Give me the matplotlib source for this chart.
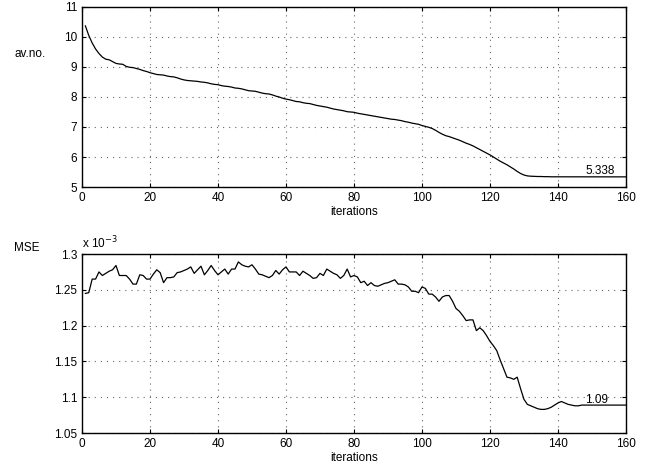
import matplotlib
matplotlib.use('Agg')
import matplotlib.pyplot as plt
import numpy as np

plt.rcParams['font.family'] = ['Liberation Sans', 'DejaVu Sans']
plt.rcParams['font.size'] = 8.5

# average number per iteration (top panel)
avno = [10.37, 10.05, 9.80, 9.60, 9.45, 9.33, 9.26, 9.24, 9.18, 9.12,
        9.10, 9.09, 9.02, 8.99, 8.98, 8.95, 8.92, 8.88, 8.85, 8.81,
        8.78, 8.75, 8.74, 8.73, 8.70, 8.68, 8.67, 8.64, 8.60, 8.57,
        8.55, 8.54, 8.53, 8.52, 8.50, 8.49, 8.47, 8.44, 8.42, 8.41,
        8.38, 8.36, 8.35, 8.33, 8.30, 8.29, 8.27, 8.24, 8.21, 8.20,
        8.19, 8.16, 8.13, 8.11, 8.10, 8.07, 8.03, 8.00, 7.96, 7.93,
        7.91, 7.88, 7.85, 7.84, 7.81, 7.79, 7.78, 7.75, 7.72, 7.70,
        7.68, 7.66, 7.63, 7.60, 7.58, 7.56, 7.54, 7.51, 7.50, 7.49,
        7.46, 7.44, 7.42, 7.40, 7.38, 7.36, 7.34, 7.32, 7.30, 7.28,
        7.26, 7.25, 7.23, 7.21, 7.18, 7.16, 7.13, 7.11, 7.09, 7.05,
        7.02, 6.99, 6.95, 6.89, 6.82, 6.76, 6.71, 6.68, 6.64, 6.60,
        6.56, 6.51, 6.46, 6.42, 6.37, 6.31, 6.25, 6.19, 6.13, 6.07,
        6.00, 5.93, 5.86, 5.80, 5.74, 5.67, 5.60, 5.52, 5.45, 5.40,
        5.37, 5.36, 5.355, 5.35, 5.35, 5.345, 5.345, 5.34, 5.34, 5.34,
        5.338, 5.338, 5.338, 5.338, 5.338, 5.338, 5.338, 5.338, 5.338, 5.338,
        5.338, 5.338, 5.338, 5.338, 5.338, 5.338, 5.338, 5.338, 5.338, 5.338]

# MSE per iteration, in units of 1e-3 (bottom panel)
mse = [1.245, 1.246, 1.265, 1.265, 1.275, 1.270, 1.273, 1.276, 1.278, 1.284,
       1.270, 1.270, 1.270, 1.265, 1.258, 1.258, 1.271, 1.270, 1.265, 1.265,
       1.272, 1.278, 1.274, 1.260, 1.267, 1.267, 1.268, 1.274, 1.275, 1.277,
       1.279, 1.282, 1.273, 1.278, 1.283, 1.271, 1.277, 1.284, 1.277, 1.271,
       1.275, 1.279, 1.272, 1.279, 1.279, 1.289, 1.285, 1.283, 1.282, 1.285,
       1.279, 1.272, 1.271, 1.269, 1.267, 1.270, 1.277, 1.272, 1.278, 1.282,
       1.275, 1.275, 1.275, 1.270, 1.276, 1.273, 1.270, 1.266, 1.267, 1.273,
       1.270, 1.279, 1.276, 1.273, 1.271, 1.266, 1.270, 1.279, 1.268, 1.270,
       1.268, 1.260, 1.262, 1.256, 1.260, 1.256, 1.255, 1.257, 1.259, 1.260,
       1.262, 1.264, 1.258, 1.258, 1.257, 1.254, 1.248, 1.248, 1.246, 1.254,
       1.252, 1.244, 1.244, 1.240, 1.234, 1.240, 1.242, 1.242, 1.234, 1.224,
       1.220, 1.214, 1.207, 1.208, 1.208, 1.193, 1.197, 1.193, 1.186, 1.178,
       1.172, 1.165, 1.152, 1.140, 1.128, 1.127, 1.125, 1.128, 1.112, 1.097,
       1.090, 1.088, 1.086, 1.084, 1.083, 1.083, 1.084, 1.086, 1.089, 1.092,
       1.094, 1.092, 1.090, 1.089, 1.088, 1.088, 1.089, 1.089, 1.089, 1.089,
       1.089, 1.089, 1.089, 1.089, 1.089, 1.089, 1.089, 1.089, 1.089, 1.089]

iters = np.arange(1, len(avno) + 1)
xticks = [0, 20, 40, 60, 80, 100, 120, 140, 160]
avno_ticks = [5, 6, 7, 8, 9, 10, 11]
mse_ticks = [1.05, 1.1, 1.15, 1.2, 1.25, 1.3]
mse_ticklabels = ['1.05', '1.1', '1.15', '1.2', '1.25', '1.3']


def style(ax):
    ax.set_xlim(0, 160)
    ax.set_xticks(xticks)
    ax.tick_params(direction='in', top=True, right=True, length=3, width=0.8, pad=3.5)
    ax.grid(True, linestyle=(0, (1, 4.5)), color='0.4', linewidth=0.8)
    for s in ax.spines.values():
        s.set_linewidth(1.0)
    ax.set_xlabel('iterations', labelpad=1.5)


fig = plt.figure(figsize=(6.47, 4.72), dpi=100)

ax1 = fig.add_axes([0.1267, 0.6038, 0.8408, 0.3814])
ax1.plot(iters, avno, color='black', linewidth=0.9)
ax1.set_ylim(5, 11)
ax1.set_yticks(avno_ticks)
style(ax1)
ax1.text(148, avno[-1] + 0.08, '5.338', fontsize=8.5)
fig.text(0.047, 0.885, 'av.no.', fontsize=8.5, va='center', ha='center')

ax2 = fig.add_axes([0.1267, 0.0826, 0.8408, 0.3792])
ax2.plot(iters, mse, color='black', linewidth=0.9)
ax2.set_ylim(1.05, 1.3)
ax2.set_yticks(mse_ticks)
ax2.set_yticklabels(mse_ticklabels)
style(ax2)
ax2.text(148, mse[-1] + 0.003, '1.09', fontsize=8.5)
ax2.text(0.0, 1.015, r'x 10$^{-3}$', transform=ax2.transAxes, fontsize=8.5,
         va='bottom', ha='left')
fig.text(0.042, 0.475, 'MSE', fontsize=8.5, va='center', ha='center')

fig.savefig('out.png', dpi=100)
